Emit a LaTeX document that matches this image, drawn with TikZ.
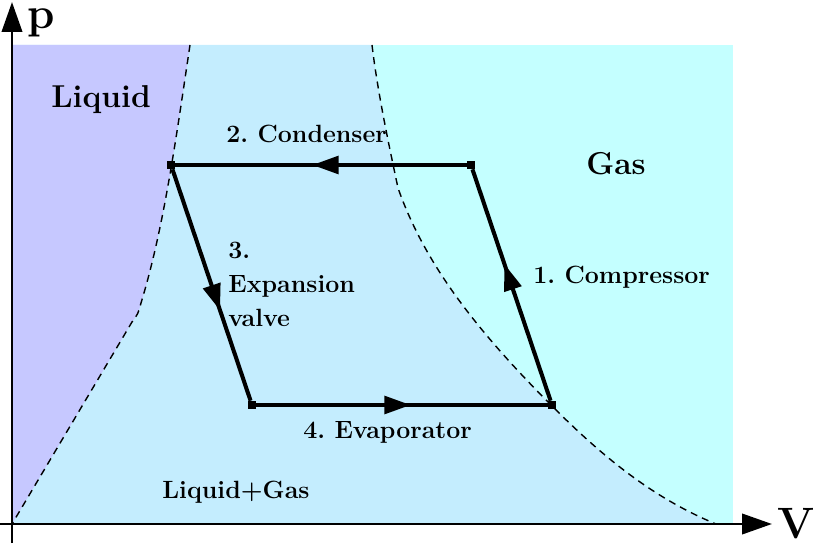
\documentclass[tikz,border=0pt]{standalone}
\usepackage{fontspec}
\usepackage{xcolor}
\usepackage{tikz}
\usetikzlibrary{arrows.meta,decorations.markings}
\definecolor{PVLiquid}{HTML}{C6C8FF}
\definecolor{PVMix}{HTML}{C4EDFE}
\definecolor{PVGas}{HTML}{C4FFFF}
\tikzset{
  corner/.style={rectangle,fill=black,inner sep=0pt,minimum size=4.5pt},
  cycleline/.style={line width=2.3pt,postaction={decorate},
    decoration={markings,mark=at position #1 with {\arrow{Triangle[length=15pt,width=10pt]}}}},
  axis/.style={line width=1.7pt,-{Triangle[length=17pt,width=11.5pt]}},
  boundary/.style={line width=0.8pt,dash pattern=on 4pt off 3pt},
  lbl/.style={anchor=base west,inner sep=0pt,font=\fontsize{14.2}{19.4}\selectfont\bfseries\frenchspacing},
  phase/.style={anchor=base west,inner sep=0pt,font=\fontsize{18}{20}\selectfont\bfseries},
  axlbl/.style={anchor=base west,inner sep=0pt,font=\fontsize{25}{28}\selectfont\bfseries}
}

\begin{document}
\begin{tikzpicture}[x=1cm,y=1cm]
\path[use as bounding box] (0,0) rectangle (16.26,10.88);
% phase regions
\fill[PVGas] (0.24,0.40) rectangle (14.66,9.98);
\fill[PVMix] (0.24,9.98) -- (7.44,9.98) .. controls (7.56,8.98) and (7.80,7.88) .. (7.96,7.12)
  .. controls (8.50,5.58) and (9.56,4.24) .. (11.06,2.74)
  .. controls (12.06,1.74) and (13.06,0.92) .. (14.32,0.40) -- (0.24,0.40) -- cycle;
\fill[PVLiquid] (0.24,9.98) -- (3.80,9.98) .. controls (3.53,8.18) and (3.28,6.32) .. (2.82,4.82)
  .. controls (2.76,4.60) .. (2.64,4.44) -- (0.24,0.40) -- cycle;
\draw[boundary] (3.80,9.98) .. controls (3.53,8.18) and (3.28,6.32) .. (2.82,4.82)
  .. controls (2.76,4.60) .. (2.64,4.44) -- (0.24,0.40);
\draw[boundary] (7.44,9.98) .. controls (7.56,8.98) and (7.80,7.88) .. (7.96,7.12)
  .. controls (8.50,5.58) and (9.56,4.24) .. (11.06,2.74)
  .. controls (12.06,1.74) and (13.06,0.92) .. (14.32,0.40);
% axes
\coordinate (xfrom) at (0,0.40);
\coordinate (xto) at (15.44,0.40);
\coordinate (yfrom) at (0.24,0.02);
\coordinate (yto) at (0.24,10.84);
\draw[axis] (xfrom) -- (xto);
\draw[axis] (yfrom) -- (yto);
\node[axlbl] (lp) at (0.54,10.30) {p};
\node[axlbl] (lV) at (15.54,0.12) {V};
% cycle
\node[corner] (condout) at (3.42,7.58) {};
\node[corner] (compout) at (9.42,7.58) {};
\node[corner] (evapout) at (11.04,2.78) {};
\node[corner] (valveout) at (5.04,2.78) {};
\draw[cycleline=0.59] (evapout) -- (compout);
\draw[cycleline=0.53] (compout) -- (condout);
\draw[cycleline=0.61] (condout) -- (valveout);
\draw[cycleline=0.53] (valveout) -- (evapout);
% labels
\node[phase] (lliq) at (1.02,8.72) {Liquid};
\node[phase] (lgas) at (11.72,7.38) {Gas};
\node[lbl] (lmix) at (3.24,0.92) {Liquid+Gas};
\node[lbl] (lcomp) at (10.66,5.22) {1. Compressor};
\node[lbl] (lcond) at (4.52,8.02) {2. Condenser};
\node[lbl,anchor=north west,align=left] (lvalve) at (4.56,6.04) {3.\\Expansion\\valve};
\node[lbl] (levap) at (6.06,2.12) {4. Evaporator};
\end{tikzpicture}
\end{document}
